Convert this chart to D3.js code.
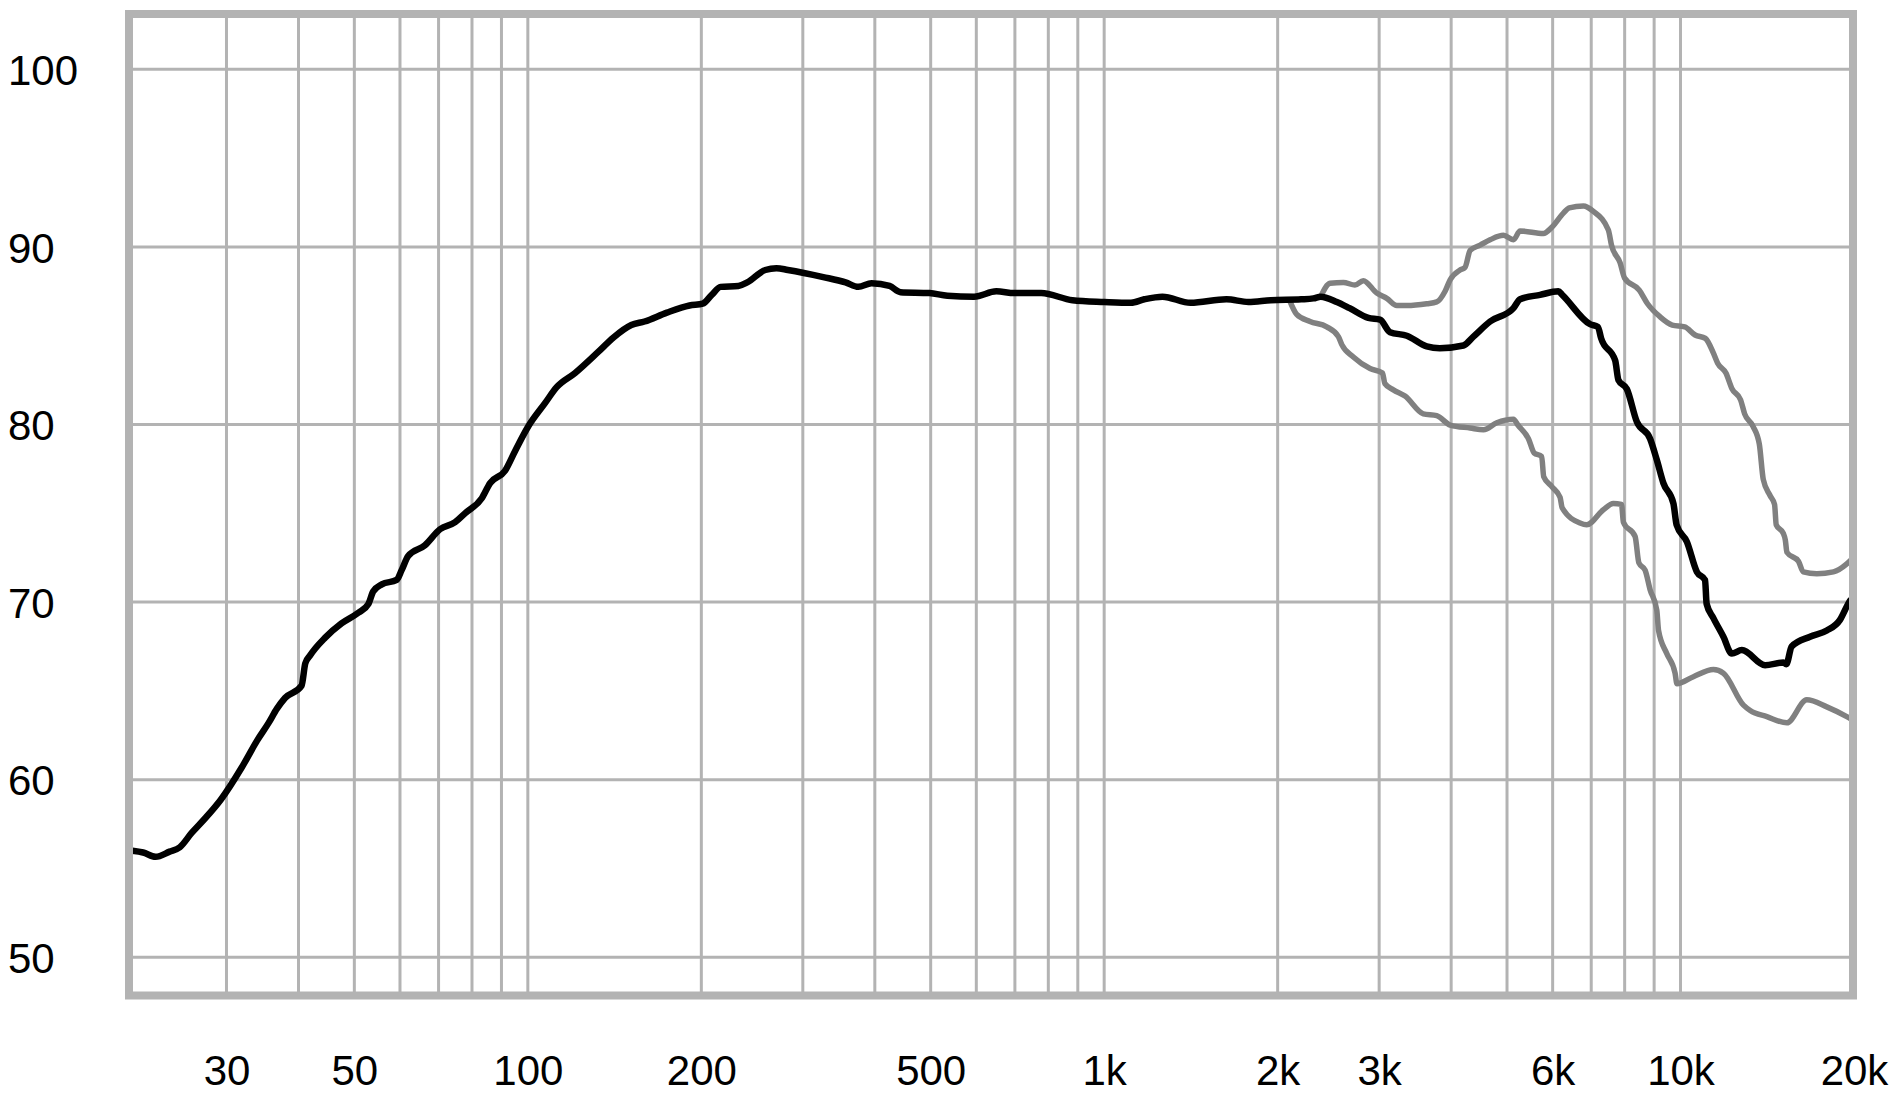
<!DOCTYPE html>
<html>
<head>
<meta charset="utf-8">
<script src="https://d3js.org/d3.v7.min.js"></script>
<style>
  html, body { margin: 0; padding: 0; background: #fff; }
  #chart { width: 1899px; height: 1099px; }
</style>
</head>
<body>
<div id="chart"></div>
<script>
// 频响曲线数据
const mainFreq = [20.6, 21.5, 22.6, 23.9, 24.9, 26.1, 27.5, 29.3, 31.9, 33.9, 35.5, 36.7, 37.9, 40.5, 41.1, 41.9, 44.5, 47.5, 50.8, 52.9,
  53.9, 55.8, 59.2, 60.4, 62, 66.3, 70.4, 74.8, 77.8, 83.2, 86, 91.3, 95, 100.2, 107.1, 112.2, 120.8, 132.6, 140.8, 151.2,
  159.4, 174.3, 190.8, 201.1, 208.5, 216, 231.9, 240.3, 258.2, 270, 282.6, 325.5, 355.9, 374.5, 394.8, 424.3, 443.2, 497.6, 534.6, 594.8,
  650, 698.6, 777.4, 881, 1000, 1113, 1174, 1262, 1412, 1630, 1779, 1946, 2197, 2307, 2375, 2533, 2666, 2874, 3010, 3133,
  3350, 3628, 3822, 4201, 4372, 4673, 5130, 5268, 5706, 6138, 6234, 6966, 7188, 7283, 7703, 7804, 8070, 8399, 8856, 9098,
  9339, 9721, 9845, 10257, 10677, 11030, 11100, 11405, 11870, 12275, 12777, 14020, 15080, 15260, 15590, 16780, 17940, 18910, 19500, 19700];
const mainDb = [56.0, 55.9, 55.66, 55.95, 56.2, 57.0, 57.8, 58.86, 60.7, 62.2, 63.2, 64.0, 64.6, 65.3, 66.55, 67.0, 68.0, 68.8, 69.4, 69.9,
  70.6, 71.0, 71.25, 71.8, 72.6, 73.2, 74.1, 74.5, 75.0, 75.85, 76.7, 77.4, 78.5, 79.9, 81.2, 82.1, 82.9, 84.1, 84.9, 85.6,
  85.8, 86.3, 86.7, 86.8, 87.3, 87.75, 87.8, 88.0, 88.7, 88.8, 88.7, 88.3, 88.0, 87.75, 87.95, 87.8, 87.45, 87.4, 87.25, 87.2,
  87.5, 87.4, 87.4, 87.0, 86.9, 86.85, 87.05, 87.2, 86.85, 87.05, 86.9, 87.0, 87.05, 87.1, 87.2, 86.9, 86.55, 86.0, 85.9, 85.2,
  85.0, 84.4, 84.3, 84.45, 84.95, 85.8, 86.55, 87.05, 87.3, 87.5, 87.3, 85.65, 85.5, 84.85, 83.6, 82.5, 82.0, 80.15, 79.2, 78.0,
  76.7, 75.55, 74.35, 73.4, 71.7, 71.25, 69.9, 69.1, 68.05, 67.1, 67.3, 66.45, 66.6, 66.5, 67.5, 68.05, 68.4, 69.0, 69.85, 70.1];

const upperFreq = [2375, 2466, 2600, 2724, 2816, 2972, 3093, 3219, 3350, 3628, 3776, 3904, 3984, 4144, 4228, 4315, 4491, 4673, 4930, 5130,
  5268, 5782, 5980, 6263, 6411, 6785, 7060, 7496, 7590, 7857, 7996, 8480, 8766, 9210, 9675, 10170, 10600, 11045, 11410, 11600,
  11990, 12290, 12710, 12920, 13360, 13700, 13920, 14300, 14560, 14660, 15080, 15200, 15300, 16020, 16330, 17240, 18420, 19430, 19800];
const upperDb = [87.2, 87.95, 88.0, 87.85, 88.1, 87.4, 87.1, 86.7, 86.7, 86.8, 86.9, 87.5, 88.15, 88.7, 88.85, 89.8, 90.1, 90.4, 90.65, 90.4,
  90.9, 90.75, 91.1, 91.9, 92.2, 92.3, 92.0, 90.95, 90.1, 89.1, 88.25, 87.57, 86.8, 86.07, 85.6, 85.5, 85.04, 84.85, 84.0, 83.45,
  82.9, 82.0, 81.4, 80.6, 79.9, 78.9, 76.9, 76.0, 75.5, 74.35, 73.87, 73.5, 72.8, 72.3, 71.7, 71.6, 71.7, 72.15, 72.4];

const lowerFreq = [2100, 2158, 2276, 2433, 2549, 2584, 2706, 2893, 3040, 3070, 3175, 3327, 3578, 3776, 3984, 4315, 4552, 4800, 5130, 5222,
  5447, 5572, 5742, 5790, 5980, 6180, 6234, 6693, 6873, 7348, 7646, 7900, 7960, 8340, 8470, 8681, 8856, 9096, 9160, 9465,
  9785, 9860, 10530, 11405, 11870, 12860, 13210, 14120, 15290, 16560, 17940, 19430, 19800];
const lowerDb = [86.95, 86.2, 85.8, 85.5, 84.95, 84.5, 83.8, 83.15, 82.9, 82.3, 81.95, 81.6, 80.6, 80.5, 79.97, 79.8, 79.7, 80.1, 80.3, 79.97,
  79.2, 78.4, 78.2, 77.06, 76.5, 75.9, 75.3, 74.45, 74.35, 75.2, 75.55, 75.5, 74.5, 73.7, 72.2, 71.8, 70.7, 69.55, 68.4, 67.1,
  66.0, 65.4, 65.8, 66.2, 66.0, 64.2, 63.9, 63.55, 63.2, 64.5, 64.1, 63.55, 63.4];

// 网格和刻度
const gridFreqs = [30, 40, 50, 60, 70, 80, 90, 100, 200, 300, 400, 500, 600, 700, 800, 900,
  1000, 2000, 3000, 4000, 5000, 6000, 7000, 8000, 9000, 10000];
const xTickValues = [30, 50, 100, 200, 500, 1000, 2000, 3000, 6000, 10000, 20000];
const xTickLabels = ["30", "50", "100", "200", "500", "1k", "2k", "3k", "6k", "10k", "20k"];
const yTickValues = [50, 60, 70, 80, 90, 100];

const width = 1899, height = 1099;
const gridColor = "#b3b3b3";

const svg = d3.select("#chart").append("svg")
  .attr("width", width)
  .attr("height", height);

svg.append("rect").attr("width", width).attr("height", height).attr("fill", "#fff");

const x = d3.scaleLog().domain([20, 20000]).range([125, 1854]);
const y = d3.scaleLinear().domain([50, 100]).range([957.3, 69.3]);

const frame = { left: 129, right: 1853, top: 14, bottom: 995.5 };

// 竖向网格
svg.append("g").selectAll("line")
  .data(gridFreqs)
  .join("line")
  .attr("x1", d => x(d)).attr("x2", d => x(d))
  .attr("y1", frame.top).attr("y2", frame.bottom)
  .attr("stroke", gridColor)
  .attr("stroke-width", 3);

// 横向网格
svg.append("g").selectAll("line")
  .data(yTickValues)
  .join("line")
  .attr("x1", frame.left).attr("x2", frame.right)
  .attr("y1", d => y(d)).attr("y2", d => y(d))
  .attr("stroke", gridColor)
  .attr("stroke-width", 3);

const line = d3.line()
  .x(d => x(d[0]))
  .y(d => y(d[1]))
  .curve(d3.curveMonotoneX);

function addCurve(freqs, dbs, color, w) {
  svg.append("path")
    .datum(d3.zip(freqs, dbs))
    .attr("d", line)
    .attr("fill", "none")
    .attr("stroke", color)
    .attr("stroke-width", w)
    .attr("stroke-linejoin", "round")
    .attr("stroke-linecap", "round");
}

addCurve(upperFreq, upperDb, "#808080", 5.5);
addCurve(lowerFreq, lowerDb, "#808080", 5.5);
addCurve(mainFreq, mainDb, "#000", 6.5);

// 外框
svg.append("rect")
  .attr("x", frame.left).attr("y", frame.top)
  .attr("width", frame.right - frame.left)
  .attr("height", frame.bottom - frame.top)
  .attr("fill", "none")
  .attr("stroke", gridColor)
  .attr("stroke-width", 8);

// 坐标轴文字
const font = "'Liberation Sans', Arial, sans-serif";

const xAxis = svg.append("g")
  .attr("transform", "translate(0,1085)")
  .call(d3.axisBottom(x).tickValues(xTickValues)
    .tickFormat((d, i) => xTickLabels[i]).tickSize(0));
xAxis.select(".domain").remove();
xAxis.selectAll("text")
  .attr("y", 0).attr("dy", 0)
  .attr("font-family", font).attr("font-size", 42).attr("fill", "#000");

const yAxis = svg.append("g")
  .call(d3.axisLeft(y).tickValues(yTickValues).tickSize(0));
yAxis.select(".domain").remove();
yAxis.selectAll("text")
  .attr("x", 8).attr("dy", "0.36em")
  .attr("text-anchor", "start")
  .attr("font-family", font).attr("font-size", 42).attr("fill", "#000");
</script>
</body>
</html>
